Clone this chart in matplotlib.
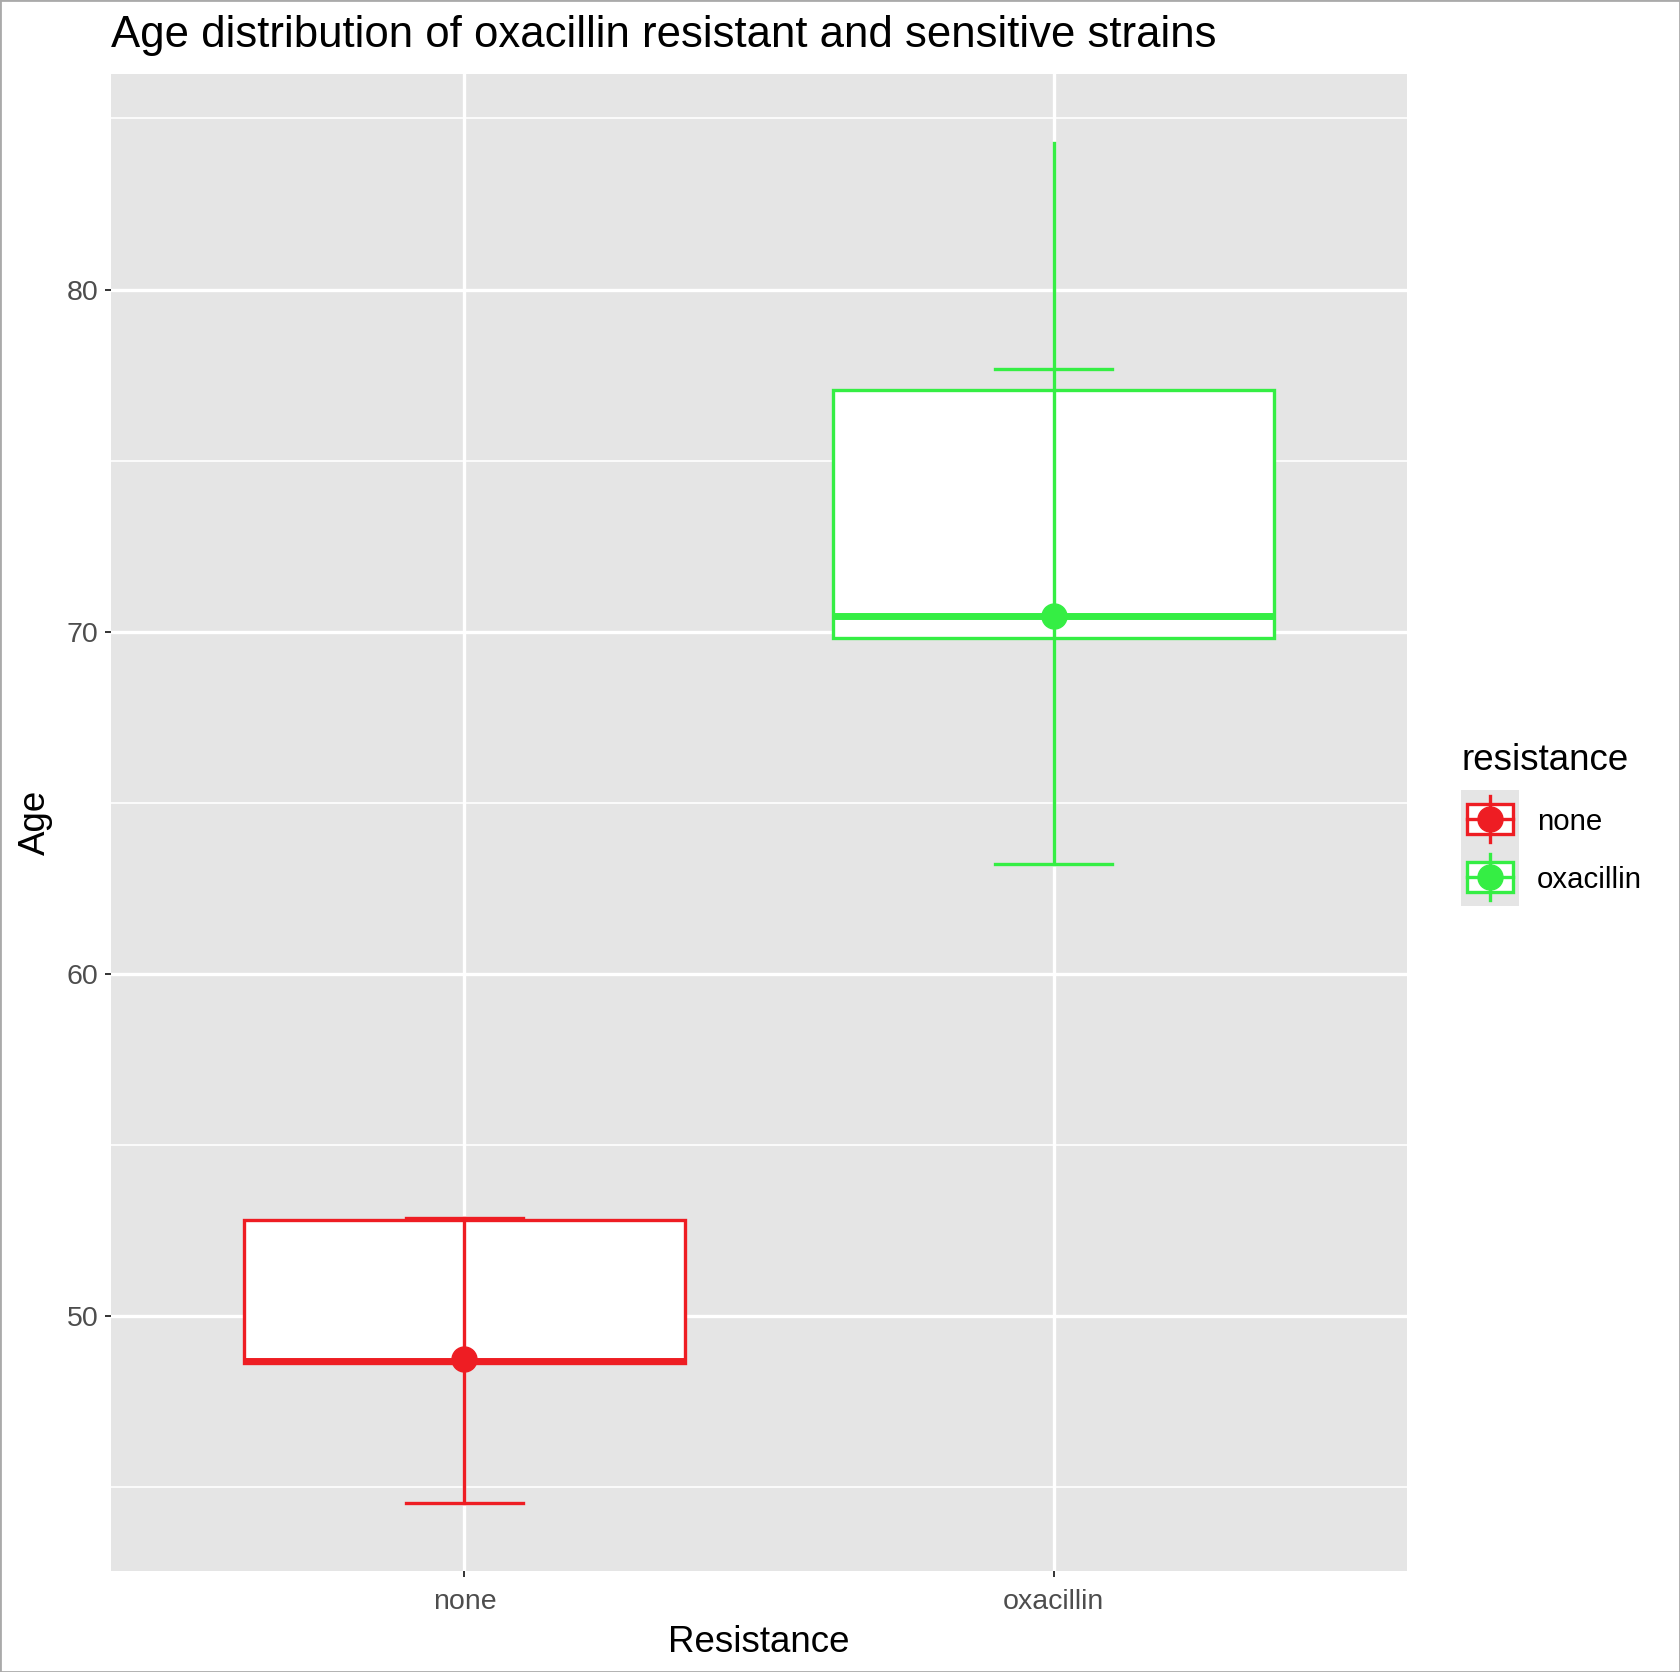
import matplotlib

matplotlib.use("Agg")
import matplotlib.pyplot as plt
from matplotlib.patches import Rectangle

plt.rcParams["font.family"] = ["Liberation Sans", "DejaVu Sans"]

# values
categories = ["none", "oxacillin"]
colors = ["#EE1D23", "#35EE44"]
q1 = [48.62, 69.82]
median = [48.68, 70.45]
q3 = [52.82, 77.06]
cap_low = [44.55, 63.21]
cap_high = [52.88, 77.68]
line_low = [44.55, 63.21]
line_high = [52.88, 84.29]
mean = [48.75, 70.45]

y_major = [50, 60, 70, 80]
y_minor = [45, 55, 65, 75, 85]

BOX_W = 0.75
CAP_W = 0.2
PANEL_BG = "#E5E5E5"

fig = plt.figure(figsize=(16.8, 16.72), dpi=100)
ax = fig.add_axes([111 / 1680, 1 - 1571 / 1672, (1407 - 111) / 1680, (1571 - 74) / 1672])
ax.set_facecolor(PANEL_BG)

ax.set_xlim(0.4, 2.6)
ax.set_ylim(42.55, 86.3)

for y in y_minor:
    ax.axhline(y, color="white", lw=1.2, zorder=0)
for y in y_major:
    ax.axhline(y, color="white", lw=2.4, zorder=0)
for i in range(len(categories)):
    ax.axvline(i + 1, color="white", lw=2.4, zorder=0)

for i, cat in enumerate(categories):
    x = i + 1
    c = colors[i]
    ax.add_patch(
        Rectangle(
            (x - BOX_W / 2, q1[i]),
            BOX_W,
            q3[i] - q1[i],
            facecolor="white",
            edgecolor=c,
            lw=2.4,
            zorder=2,
        )
    )
    ax.plot([x - BOX_W / 2, x + BOX_W / 2], [median[i]] * 2, color=c, lw=5, zorder=3,
            solid_capstyle="butt")
    ax.plot([x, x], [line_low[i], line_high[i]], color=c, lw=2.4, zorder=3)
    ax.plot([x - CAP_W / 2, x + CAP_W / 2], [cap_low[i]] * 2, color=c, lw=2.4, zorder=3)
    ax.plot([x - CAP_W / 2, x + CAP_W / 2], [cap_high[i]] * 2, color=c, lw=2.4, zorder=3)
    ax.plot([x], [mean[i]], "o", color=c, ms=18, mec=c, zorder=4)

ax.set_xticks(range(1, len(categories) + 1))
ax.set_xticklabels(categories)
ax.set_yticks(y_major)
ax.tick_params(axis="both", length=4, width=1.4, color="#333333", labelcolor="#4D4D4D",
               labelsize=20.5)
ax.tick_params(axis="x", pad=9)
ax.tick_params(axis="y", pad=5)
for s in ax.spines.values():
    s.set_visible(False)

ax.set_xlabel("Resistance", fontsize=26.5, color="black", labelpad=7)
ax.set_ylabel("Age", fontsize=26.5, color="black", labelpad=10)
fig.text(111 / 1680, 1 - 35 / 1672, "Age distribution of oxacillin resistant and sensitive strains",
         fontsize=31.5, ha="left", va="center", color="black")

# legend drawn by hand, in the ggplot style
fig.text(1461 / 1680, 1 - 760 / 1672, "resistance", fontsize=26.5, ha="left", va="center")
lax = fig.add_axes([1461 / 1680, 1 - 906 / 1672, 58 / 1680, 116 / 1672])
lax.set_xlim(0, 1)
lax.set_ylim(0, 2)
lax.set_facecolor(PANEL_BG)
lax.set_xticks([])
lax.set_yticks([])
for s in lax.spines.values():
    s.set_visible(False)
for i, cat in enumerate(categories):
    c = colors[i]
    yc = 1.5 - i
    lax.add_patch(Rectangle((0.1, yc - 0.26), 0.8, 0.52, facecolor="white", edgecolor=c, lw=2.4))
    lax.plot([0.1, 0.9], [yc, yc], color=c, lw=2.4)
    lax.plot([0.5, 0.5], [yc - 0.4, yc + 0.4], color=c, lw=2.4)
    lax.plot([0.5], [yc], "o", color=c, ms=18)
    fig.text(1537 / 1680, 1 - (822 + 58 * i) / 1672, cat, fontsize=21.2, ha="left", va="center",
             color="black")

fig.patches.append(Rectangle((0, 0), 1, 1, transform=fig.transFigure, fill=False,
                             edgecolor="#AAAAAA", lw=2))

fig.savefig("out.png", dpi=100)
